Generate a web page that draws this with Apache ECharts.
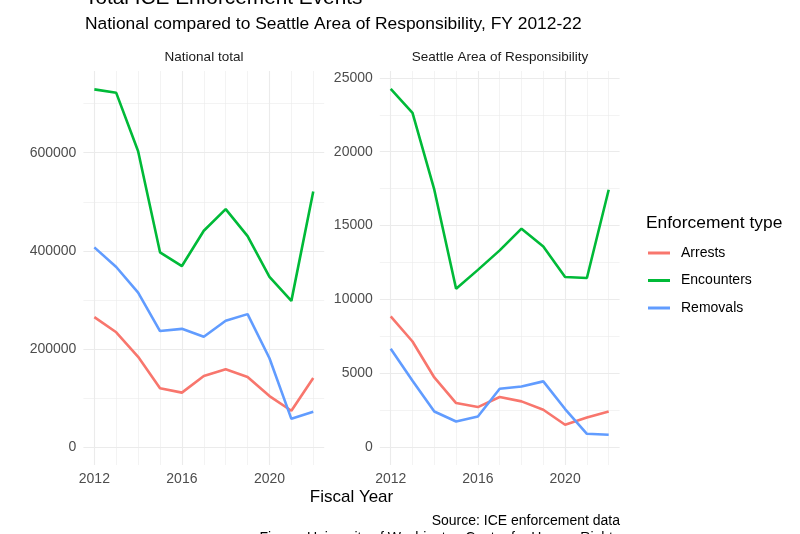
<!DOCTYPE html>
<html>
<head>
<meta charset="utf-8">
<title>Total ICE Enforcement Events</title>
<script src="https://cdn.jsdelivr.net/npm/echarts@6.0.0/dist/echarts.min.js"></script>
<style>
	html, body { margin: 0; padding: 0; background: #ffffff; }
	#main { width: 800px; height: 534px; }
</style>
</head>
<body>
<div id="main"></div>
<script>
// data
var years = [2012, 2013, 2014, 2015, 2016, 2017, 2018, 2019, 2020, 2021, 2022];
var typeNames = ['Arrests', 'Encounters', 'Removals'];
var typeColors = ['#F8766D', '#00BA38', '#619CFF'];

var natArrests    = [265000, 234000, 184000, 120000, 111000, 145000, 158600, 143000, 104000, 74000, 141000];
var natEncounters = [729000, 722000, 603000, 397000, 369000, 441000, 485000, 430000, 347000, 298000, 521000];
var natRemovals   = [407000, 367000, 315000, 236500, 241000, 225000, 257500, 271000, 181000, 57600, 72000];

var seaArrests    = [8850, 7150, 4715, 2980, 2710, 3390, 3095, 2530, 1510, 2005, 2410];
var seaEncounters = [24250, 22630, 17430, 10725, 12000, 13320, 14790, 13590, 11520, 11450, 17430];
var seaRemovals   = [6660, 4490, 2410, 1735, 2075, 3950, 4105, 4450, 2575, 900, 835];

// tick labels / grid lines
var xMajor = [2012, 2016, 2020];
var xMinor = [2013, 2014, 2015, 2017, 2018, 2019, 2021, 2022];
var natYMajor = [0, 200000, 400000, 600000];
var natYMinor = [100000, 300000, 500000, 700000];
var seaYMajor = [0, 5000, 10000, 15000, 20000, 25000];
var seaYMinor = [2500, 7500, 12500, 17500, 22500];

var FONT = '"Liberation Sans", Arial, Helvetica, sans-serif';
var GRIDCOL = '#ebebeb';

var toPairs = function(vals){
	var out = [];
	for(var i = 0;i < years.length;i++){
		out.push([years[i], vals[i]]);
	}
	return out;
};

// one visible axis (major lines + labels) and one hidden axis (minor lines) per direction
var makeX = function(gi, vals, major){
	return {
		type: 'value', gridIndex: gi, min: 2011.5, max: 2022.5,
		axisLine: {show: false},
		axisTick: {show: false, customValues: vals},
		axisLabel: {show: major, customValues: vals, color: '#4d4d4d', fontSize: 14,
			fontFamily: FONT, margin: 7, formatter: function(v){ return String(v); }},
		splitLine: {show: true, lineStyle: {color: GRIDCOL, width: major ? 1.1 : 0.6}}
	};
};
var makeY = function(gi, mn, mx, vals, major){
	return {
		type: 'value', gridIndex: gi, min: mn, max: mx, position: 'left',
		axisLine: {show: false},
		axisTick: {show: false, customValues: vals},
		axisLabel: {show: major, customValues: vals, color: '#4d4d4d', fontSize: 14,
			fontFamily: FONT, margin: 7, formatter: function(v){ return String(v); }},
		splitLine: {show: true, lineStyle: {color: GRIDCOL, width: major ? 1.1 : 0.6}}
	};
};

var makeLine = function(name, vals, axisIdx){
	var k = typeNames.indexOf(name);
	return {
		name: name,
		type: 'line',
		xAxisIndex: axisIdx,
		yAxisIndex: axisIdx,
		data: toPairs(vals),
		showSymbol: false,
		symbol: 'none',
		color: typeColors[k],
		lineStyle: {color: typeColors[k], width: 2.6},
		z: 3 + k
	};
};

var textEl = function(txt, x, y, size, color, align){
	return {
		type: 'text', x: x, y: y, silent: true,
		style: {text: txt, fill: color, font: size + 'px ' + FONT,
			align: align, verticalAlign: 'middle'}
	};
};

var dom = document.getElementById('main');
var myChart = echarts.init(dom, null, {renderer: 'canvas'});
var option = null;

option = {
	animation: false,
	backgroundColor: '#ffffff',
	grid: [
		{left: 83.4, top: 71, width: 240.8, height: 394},
		{left: 379.8, top: 71, width: 239.8, height: 394}
	],
	xAxis: [
		makeX(0, xMajor, true),
		makeX(1, xMajor, true),
		makeX(0, xMinor, false),
		makeX(1, xMinor, false)
	],
	yAxis: [
		makeY(0, -36500, 766500, natYMajor, true),
		makeY(1, -1213, 25467, seaYMajor, true),
		makeY(0, -36500, 766500, natYMinor, false),
		makeY(1, -1213, 25467, seaYMinor, false)
	],
	legend: {
		data: typeNames,
		orient: 'vertical',
		left: 648,
		top: 246,
		padding: 0,
		icon: 'rect',
		itemWidth: 22,
		itemHeight: 3,
		itemGap: 13.5,
		selectedMode: false,
		textStyle: {color: '#000000', fontSize: 14, fontFamily: FONT, lineHeight: 14,
			padding: [0, 0, 0, 6]}
	},
	series: [
		makeLine('Arrests', natArrests, 0),
		makeLine('Encounters', natEncounters, 0),
		makeLine('Removals', natRemovals, 0),
		makeLine('Arrests', seaArrests, 1),
		makeLine('Encounters', seaEncounters, 1),
		makeLine('Removals', seaRemovals, 1)
	],
	graphic: [
		textEl('Total ICE Enforcement Events', 85, -2, 20.8, '#000000', 'left'),
		textEl('National compared to Seattle Area of Responsibility, FY 2012-22', 85, 24, 17.4, '#000000', 'left'),
		textEl('National total', 204, 57, 13.5, '#1a1a1a', 'center'),
		textEl('Seattle Area of Responsibility', 500, 57, 13.5, '#1a1a1a', 'center'),
		textEl('Fiscal Year', 351.5, 497, 17, '#000000', 'center'),
		textEl('Enforcement type', 646, 223, 17.4, '#000000', 'left'),
		textEl('Source: ICE enforcement data', 620, 521, 14, '#000000', 'right'),
		textEl('Figure: University of Washington Center for Human Rights', 620, 538, 14, '#000000', 'right')
	]
};

myChart.setOption(option);
window.addEventListener('resize', function(){
	myChart.resize();
});
</script>
</body>
</html>
